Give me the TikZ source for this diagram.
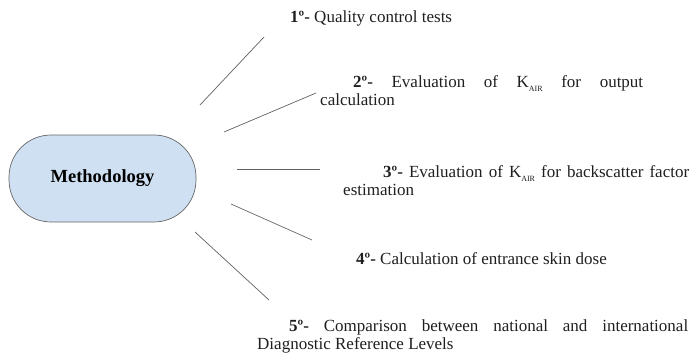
\documentclass[tikz,border=0pt]{standalone}
\usepackage{fontspec}
\setmainfont{Liberation Serif}[BoldFont={Liberation Serif Bold}]
\newcommand{\ordn}[1]{\textbf{#1º-}}
\newcommand{\kair}{K\raisebox{-0.45ex}{\fontsize{8}{8}\selectfont AIR}}
\begin{document}
\begin{tikzpicture}[x=1pt,y=-1pt,
  linkline/.style={draw=black!62, line width=0.7pt},
  item/.style={inner sep=0pt, anchor=base west, text=black!88,
    font=\fontsize{17}{18.5}\selectfont},
  hub/.style={draw=black!60, line width=0.7pt, fill={rgb,255:red,207;green,224;blue,242},
    rounded corners=42pt, minimum width=187pt, minimum height=87pt,
    font=\bfseries\fontsize{18.5}{20}\selectfont}
]
\useasboundingbox (0,0) rectangle (696,359);
\node[hub] (meth) at (102.5,178.5) {Methodology};

\node[item] (t1) at (290,22.5) {\ordn{1} Quality control tests};
\node[item] (t2) at (353,87.5) {\makebox[290pt][s]{\ordn{2} Evaluation of \kair{} for output}};
\node[item] (t2b) at (320,105.5) {calculation};
\node[item] (t3) at (383,177.5) {\makebox[306pt][s]{\ordn{3} Evaluation of \kair{} for backscatter factor}};
\node[item] (t3b) at (343,195.5) {estimation};
\node[item] (t4) at (356,264.5) {\ordn{4} Calculation of entrance skin dose};
\node[item] (t5) at (289,331.5) {\makebox[399pt][s]{\ordn{5} Comparison between national and international}};
\node[item] (t5b) at (257,349) {Diagnostic Reference Levels};

\coordinate (a1) at (200,105); \coordinate (b1) at (264,37);
\coordinate (a2) at (224,132); \coordinate (b2) at (316,93);
\coordinate (a3) at (237,169); \coordinate (b3) at (320,169);
\coordinate (a4) at (231,204); \coordinate (b4) at (312,240);
\coordinate (a5) at (195,232); \coordinate (b5) at (269,300);
\draw[linkline] (a1) -- (b1);
\draw[linkline] (a2) -- (b2);
\draw[linkline] (a3) -- (b3);
\draw[linkline] (a4) -- (b4);
\draw[linkline] (a5) -- (b5);
\end{tikzpicture}
\end{document}
